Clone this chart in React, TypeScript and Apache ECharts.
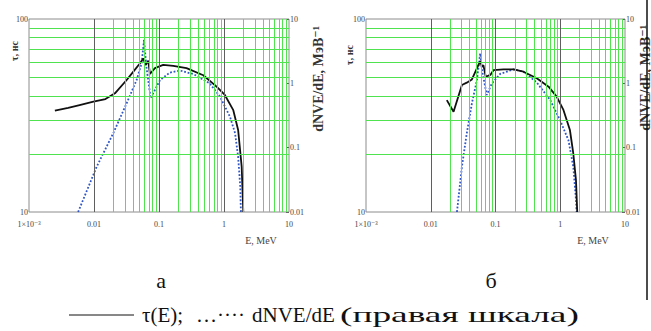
import React, { useEffect, useRef } from "react";
import * as echarts from "echarts";

// ---- tick labels ----
const xTickLabels = ["1×10⁻³", "0.01", "0.1", "1", "10"]; // decades 1e-3 .. 10
const leftTickLabels = ["10", "100"];
const rightTickLabels = ["0.01", "0.1", "1", "10"];

// ---- grid line positions ----
const decadeLines = [0.01, 0.1, 1];
const minorMantissas = [2, 3, 4, 5, 6, 7, 8, 9];
const minorDecades = [0.001, 0.01, 0.1, 1];
const tauMinorLines = [20, 30, 40, 50, 60, 70, 80, 90];

// ---- panel "а" ----
const energyTauA = [0.0025, 0.004, 0.006, 0.0098, 0.015, 0.021, 0.0318, 0.0403, 0.05, 0.0574, 0.062, 0.0683, 0.0725, 0.0867, 0.116, 0.166, 0.265, 0.48, 0.77, 1.03, 1.39, 1.65, 1.87, 1.98];
const tauA = [33.5, 34.6, 35.8, 37.3, 38.5, 41.2, 48.3, 53.4, 58.5, 62.5, 57.8, 60.8, 51.9, 55.6, 57.8, 57.1, 55.6, 51.1, 44.6, 40.4, 33.7, 26.6, 17.2, 10];
const energyDnA = [0.0057, 0.011, 0.0198, 0.0318, 0.0453, 0.0541, 0.0588, 0.064, 0.0744, 0.104, 0.147, 0.21, 0.34, 0.6, 0.87, 1.24, 1.48, 1.65, 1.78, 1.82];
const dnA = [0.01, 0.0506, 0.168, 0.49, 1.13, 2.06, 4.73, 1.82, 0.586, 1.13, 1.47, 1.58, 1.39, 1.0, 0.62, 0.3, 0.168, 0.072, 0.0247, 0.01];

// ---- panel "б" ----
const energyTauB = [0.0177, 0.0225, 0.0303, 0.036, 0.0432, 0.058, 0.0618, 0.065, 0.0707, 0.0832, 0.0935, 0.133, 0.19, 0.27, 0.434, 0.66, 0.88, 1.12, 1.41, 1.59, 1.75, 1.83];
const tauB = [38.0, 33.1, 45.5, 46.8, 48.6, 60.5, 56.6, 57.7, 50.2, 51.3, 54.4, 54.8, 54.8, 53.3, 49.3, 44.6, 39.6, 33.8, 26.6, 20.1, 14.6, 10];
const energyDnB = [0.0254, 0.0303, 0.036, 0.0432, 0.0517, 0.058, 0.0618, 0.067, 0.0733, 0.0879, 0.118, 0.19, 0.27, 0.434, 0.7, 0.99, 1.34, 1.59, 1.75, 1.79];
const dnB = [0.01, 0.0507, 0.167, 0.489, 1.13, 2.92, 1.61, 1.06, 0.659, 1.0, 1.4, 1.65, 1.52, 1.03, 0.55, 0.27, 0.13, 0.0507, 0.0154, 0.01];

const SERIF = "'Liberation Serif', 'DejaVu Serif', serif";
const GREEN = "#4fe34f";
const DARK = "#5f5f5f";
const FRAME = "#8c8c8c";

const zip = (xs: number[], ys: number[]) => xs.map((x, i) => [x, ys[i]]);

function labelFromLog(v: number, labels: string[], minExp: number) {
  const idx = Math.round(Math.log10(v)) - minExp;
  return labels[idx] ?? "";
}

function App() {
  const ref = useRef<HTMLDivElement>(null);
  useEffect(() => {
    document.body.style.margin = "0";
    if (!ref.current) return;
    const chart = echarts.init(ref.current, undefined, { renderer: "svg" });

    const grids = [
      { left: 29, top: 19, width: 260, height: 193 },
      { left: 366, top: 19, width: 259, height: 193 },
    ].map((g) => ({ ...g, show: true, borderColor: FRAME, borderWidth: 1, backgroundColor: "transparent" }));

    const xAxes = [0, 1].map((gi) => ({
      type: "log",
      logBase: 10,
      gridIndex: gi,
      min: 0.001,
      max: 10,
      axisLine: { show: false },
      axisTick: { show: false },
      splitLine: { show: false },
      axisLabel: {
        showMinLabel: true,
        showMaxLabel: true,
        fontSize: 8,
        color: "#444",
        fontFamily: SERIF,
        margin: 8,
        formatter: (v: number) => labelFromLog(v, xTickLabels, -3),
      },
    }));

    const yAxes: any[] = [];
    [0, 1].forEach((gi) => {
      yAxes.push({
        type: "log",
        logBase: 10,
        gridIndex: gi,
        position: "left",
        min: 10,
        max: 100,
        axisLine: { show: false },
        axisTick: { show: false },
        splitLine: { show: false },
        axisLabel: {
          showMinLabel: true,
          showMaxLabel: true,
          fontSize: 8,
          color: "#444",
          fontFamily: SERIF,
          margin: 1,
          formatter: (v: number) => labelFromLog(v, leftTickLabels, 1),
        },
      });
      yAxes.push({
        type: "log",
        logBase: 10,
        gridIndex: gi,
        position: "right",
        min: 0.01,
        max: 10,
        axisLine: { show: false },
        axisTick: { show: true, inside: true, length: 3, lineStyle: { color: "#666" } },
        splitLine: { show: false },
        axisLabel: {
          showMinLabel: true,
          showMaxLabel: true,
          fontSize: 8,
          color: "#444",
          fontFamily: SERIF,
          margin: 1,
          formatter: (v: number) => labelFromLog(v, rightTickLabels, -2),
        },
      });
    });

    const minorX: number[] = [];
    minorDecades.forEach((d) => minorMantissas.forEach((m) => minorX.push(m * d)));

    const series: any[] = [];
    [0, 1].forEach((gi) => {
      series.push({
        type: "line",
        xAxisIndex: gi,
        yAxisIndex: gi * 2,
        data: [[0.001, 10]],
        symbol: "none",
        silent: true,
        lineStyle: { opacity: 0 },
        markLine: {
          silent: true,
          symbol: ["none", "none"],
          label: { show: false },
          animation: false,
          data: [
            ...minorX.map((v) => ({ xAxis: v, lineStyle: { color: GREEN, width: 1, type: "solid" } })),
            ...tauMinorLines.map((v) => ({ yAxis: v, lineStyle: { color: GREEN, width: 1, type: "solid" } })),
            ...decadeLines.map((v) => ({ xAxis: v, lineStyle: { color: DARK, width: 1, type: "solid" } })),
          ],
        },
      });
    });

    const panels = [
      { tau: zip(energyTauA, tauA), dn: zip(energyDnA, dnA) },
      { tau: zip(energyTauB, tauB), dn: zip(energyDnB, dnB) },
    ];
    panels.forEach((p, gi) => {
      series.push({
        type: "line",
        name: "dNVE/dE",
        xAxisIndex: gi,
        yAxisIndex: gi * 2 + 1,
        data: p.dn,
        symbol: "none",
        lineStyle: { color: "#2f56c4", width: 1.8, type: "dotted" },
      });
      series.push({
        type: "line",
        name: "τ(E)",
        xAxisIndex: gi,
        yAxisIndex: gi * 2,
        data: p.tau,
        symbol: "none",
        lineStyle: { color: "#111", width: 1.8 },
      });
    });

    const rotText = (x: number, y: number, text: string, size: number) => ({
      type: "text",
      x,
      y,
      rotation: Math.PI / 2,
      style: {
        text,
        fontSize: size,
        fontWeight: "bold",
        fontFamily: SERIF,
        fill: "#333",
        align: "center",
        verticalAlign: "middle",
      },
    });
    const plainText = (x: number, y: number, text: string, size: number, align = "center", extra: any = {}) => ({
      type: "text",
      x,
      y,
      ...extra,
      style: { text, fontSize: size, fontFamily: SERIF, fill: "#111", align, verticalAlign: "middle" },
    });

    const graphic: any[] = [
      rotText(14, 51, "τ, нс", 10),
      rotText(318, 79, "dNVE/dE, МэВ⁻¹", 14),
      rotText(349, 55, "τ, нс", 10),
      rotText(645, 78, "dNVE/dE, МэВ⁻¹", 14),
      { type: "text", x: 261, y: 240, style: { text: "E, MeV", fontSize: 10, fontFamily: SERIF, fill: "#444", align: "center", verticalAlign: "middle" } },
      { type: "text", x: 593, y: 240, style: { text: "E, MeV", fontSize: 10, fontFamily: SERIF, fill: "#444", align: "center", verticalAlign: "middle" } },
      plainText(161, 280, "а", 22),
      plainText(491, 280, "б", 22),
      { type: "line", shape: { x1: 69, y1: 315, x2: 134, y2: 315 }, style: { stroke: "#111", lineWidth: 1 } },
      plainText(142, 315, "τ(E);", 21, "left"),
      plainText(196, 315, "…····", 21, "left"),
      plainText(252, 315, "dNVE/dE", 21, "left"),
      plainText(340, 315, "(правая шкала)", 21, "left", { scaleX: 1.78 }),
      { type: "line", shape: { x1: 647, y1: 0, x2: 647, y2: 300 }, style: { stroke: "#111", lineWidth: 1.5 } },
    ];

    chart.setOption({
      animation: false,
      backgroundColor: "#fff",
      grid: grids,
      xAxis: xAxes,
      yAxis: yAxes,
      series,
      graphic,
    });
    return () => chart.dispose();
  }, []);
  return <div ref={ref} style={{ width: 651, height: 331 }} />;
}

export default App;
